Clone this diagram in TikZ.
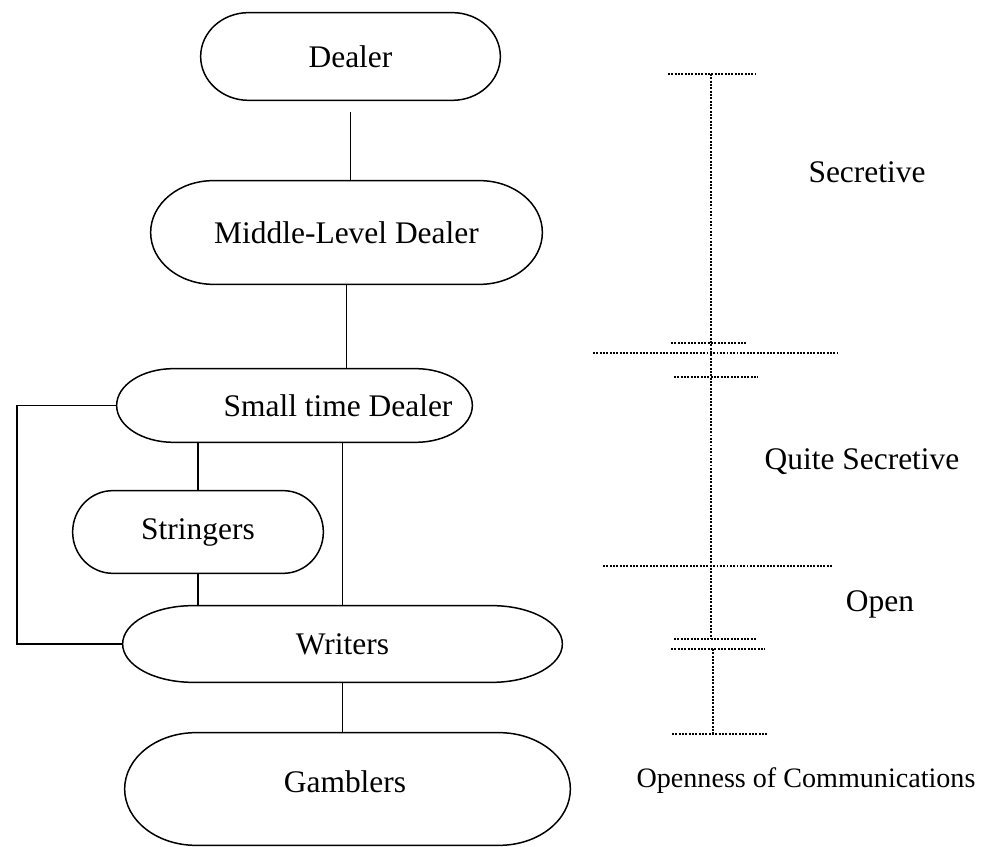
\documentclass[tikz,border=0pt]{standalone}
\usepackage{fontspec}
\setmainfont{Liberation Serif}
\usetikzlibrary{calc}

\newcommand\bodyfont{\fontsize{17.9}{21}\selectfont}
\newcommand\notefont{\fontsize{16}{19}\selectfont}

% Terminator outline (flat top and bottom, elliptical ends) around a node
\newcommand\termoutline[1]{%
  \draw[termline] let \p1=(#1.south west), \p2=(#1.north east),
    \n1={0.16*(\x2-\x1)}, \n2={(\y2-\y1)/2} in
    (\x1+\n1,\y2) -- (\x2-\n1,\y2)
    arc[start angle=90, end angle=-90, x radius=\n1, y radius=\n2]
    -- (\x1+\n1,\y1)
    arc[start angle=270, end angle=90, x radius=\n1, y radius=\n2] -- cycle;}

\tikzset{
  termline/.style={draw=black, line width=0.85pt},
  term/.style 2 args={inner sep=0pt, font=\bodyfont,
    minimum width=#1*0.02cm, minimum height=#2*0.02cm},
  lbl/.style={inner sep=0pt, font=\bodyfont},
  conn/.style={draw=black, line width=0.85pt},
  scaleline/.style={draw=black, line width=1.1pt, dash pattern=on 1.1pt off 0.8pt}
}

\begin{document}
\begin{tikzpicture}[x=0.02cm, y=0.02cm]
  \useasboundingbox (0,0) rectangle (986,847);

  % hierarchy boxes
  \node[term={299}{87}]  (dl) at (350.5,790.5) {Dealer};
  \node[term={391}{103}] (md) at (346.5,614.5) {Middle-Level Dealer};
  \node[term={355}{73}]  (sm) at (294.5,441.5) {};
  \node[lbl]             (smt) at (338,441.5) {Small time Dealer};
  \node[term={250}{82}]  (st) at (198,315) {Stringers};
  \node[term={439}{76}]  (wr) at (342.5,203) {Writers};
  \node[term={445}{112}] (gm) at (347.5,58) {};
  \node[lbl]             (gmt) at (345,65) {Gamblers};

  \foreach \bx in {dl,md,sm,st,wr,gm} {\termoutline{\bx}}

  % connectors
  \draw[conn, shorten <=0.24cm] (dl.south) -- (dl.south |- md.north);
  \draw[conn] (md.south) -- (md.south |- sm.north);
  \draw[conn] (st.north) -- (st.north |- sm.south);
  \draw[conn] (wr.north) -- (wr.north |- sm.south);
  \draw[conn] (st.south) -- (st.south |- wr.north);
  \draw[conn] (wr.south) -- (wr.south |- gm.north);

  % side bracket from small time dealer to writers
  \coordinate (brk) at (17,0);
  \draw[conn] (sm.west) -- (sm.west -| brk) -- (wr.west -| brk) -- (wr.west);

  % openness scale
  \draw[scaleline] (711,773) -- (711,208);
  \draw[scaleline] (713,198) -- (713,113);
  \foreach \y/\a/\b in {773/668/755, 504/671/747, 494/593/837, 470/674/758,
                        281/603/832, 208/674/756, 198/671/765, 113/672/767}
    {\draw[scaleline] (\a,\y) -- (\b,\y);}

  \node[lbl] (sec)  at (867,675) {Secretive};
  \node[lbl] (qsec) at (862,385) {Quite Secretive};
  \node[lbl] (opn)  at (880,243) {Open};
  \node[lbl, font=\notefont] (ooc) at (806,66) {Openness of Communications};
\end{tikzpicture}
\end{document}
